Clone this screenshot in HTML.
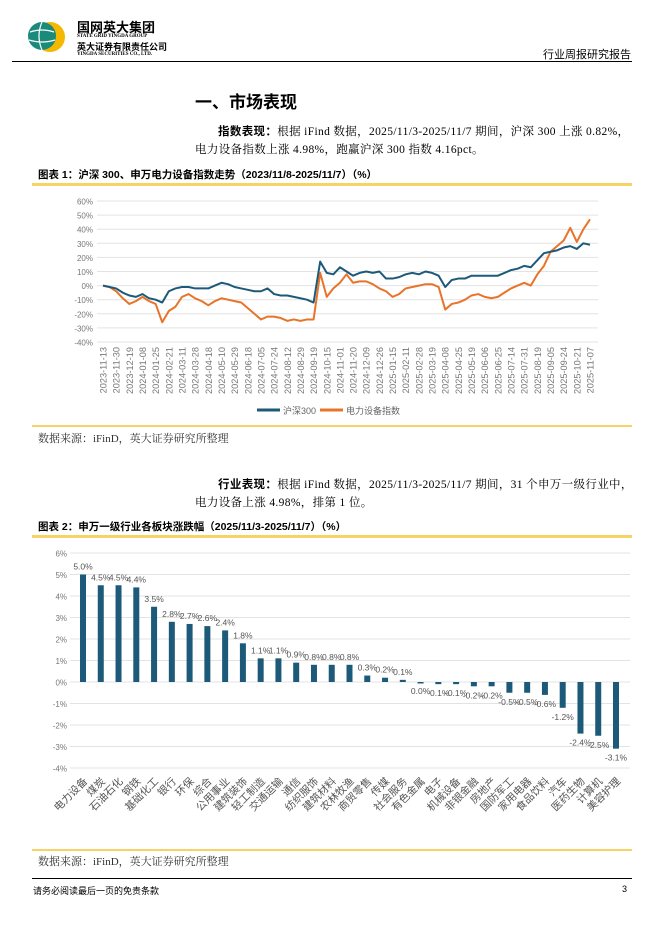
<!DOCTYPE html>
<html><head><meta charset="utf-8">
<style>
body{margin:0;background:#fff;}
#page{position:relative;width:662px;height:936px;overflow:hidden;font-family:"Liberation Serif","Noto Serif CJK SC",serif;color:#000;}
.abs{position:absolute;white-space:nowrap;}
.sans{font-family:"Liberation Sans","Noto Sans CJK SC",sans-serif;}
.yl{position:absolute;left:32px;width:600px;height:3px;background:#f6d365;}
.para{letter-spacing:0.35px;}
</style></head><body>
<div id="page">
  <svg class="abs" style="left:26px;top:18px" width="50" height="40">
    <circle cx="24" cy="19" r="15" fill="#f5b800"/>
    <circle cx="16" cy="18" r="14" fill="#1a8a7a"/>
    <path d="M4 14 Q16 10 28 14 M3 22 Q16 26 29 22 M16 4 Q10 18 16 32" stroke="#fff" stroke-width="1.2" fill="none"/>
  </svg>
  <div class="abs sans" style="left:77px;top:17px;font-size:13px;font-weight:bold">国网英大集团</div>
  <div class="abs" style="left:77px;top:34px;font-size:5px;font-weight:bold">STATE GRID YINGDA GROUP</div>
  <div class="abs sans" style="left:77px;top:40px;font-size:9px;font-weight:bold">英大证券有限责任公司</div>
  <div class="abs" style="left:77px;top:52px;font-size:5px;font-weight:bold">YINGDA SECURITIES CO., LTD.</div>
  <div class="abs sans" style="right:31px;top:46px;font-size:11px">行业周报研究报告</div>
  <div class="abs" style="left:12px;top:61px;width:620px;height:1px;background:#000"></div>

  <div class="abs sans" style="left:195px;top:88px;font-size:17px;font-weight:bold">一、市场表现</div>
  <div class="abs para" style="left:218px;top:123px;font-size:11.5px"><b class="sans">指数表现：</b>根据 iFind 数据，2025/11/3-2025/11/7 期间，沪深 300 上涨 0.82%，</div>
  <div class="abs para" style="left:195px;top:141px;font-size:11.5px">电力设备指数上涨 4.98%，跑赢沪深 300 指数 4.16pct。</div>

  <div class="abs sans" style="left:38px;top:167px;font-size:10.5px;font-weight:bold">图表 1：沪深 300、申万电力设备指数走势（2023/11/8-2025/11/7）（%）</div>
  <div class="yl" style="top:183px"></div>
  <svg id="c1" class="abs" style="left:0;top:186px" width="662" height="238"></svg>
  <div class="yl" style="top:425px;height:2px"></div>
  <div class="abs" style="left:38px;top:430px;font-size:11px;color:#333">数据来源：iFinD，英大证券研究所整理</div>

  <div class="abs para" style="left:218px;top:476px;font-size:11.5px"><b class="sans">行业表现：</b>根据 iFind 数据，2025/11/3-2025/11/7 期间，31 个申万一级行业中，</div>
  <div class="abs para" style="left:195px;top:494px;font-size:11.5px">电力设备上涨 4.98%，排第 1 位。</div>

  <div class="abs sans" style="left:38px;top:519px;font-size:10.5px;font-weight:bold">图表 2：申万一级行业各板块涨跌幅（2025/11/3-2025/11/7）（%）</div>
  <div class="yl" style="top:535px"></div>
  <svg id="c2" class="abs" style="left:0;top:538px" width="662" height="310"></svg>
  <div class="yl" style="top:849px;height:2px"></div>
  <div class="abs" style="left:38px;top:853px;font-size:11px;color:#333">数据来源：iFinD，英大证券研究所整理</div>

  <div class="abs" style="left:32px;top:878px;width:600px;height:1px;background:#000"></div>
  <div class="abs sans" style="left:33px;top:884px;font-size:9px">请务必阅读最后一页的免责条款</div>
  <div class="abs sans" style="left:622px;top:884px;font-size:9px">3</div>
</div>
<script>
const NS="http://www.w3.org/2000/svg";
const dateLabels=["2023-11-13","2023-11-30","2023-12-19","2024-01-08","2024-01-25","2024-02-21","2024-03-11","2024-03-28","2024-04-18","2024-05-10","2024-05-29","2024-06-18","2024-07-05","2024-07-24","2024-08-12","2024-08-29","2024-09-19","2024-10-15","2024-11-01","2024-11-20","2024-12-09","2024-12-26","2025-01-15","2025-02-11","2025-02-28","2025-03-19","2025-04-08","2025-04-25","2025-05-19","2025-06-06","2025-06-25","2025-07-14","2025-07-31","2025-08-19","2025-09-05","2025-09-24","2025-10-21","2025-11-07"];
const yTicks1=[60,50,40,30,20,10,0,-10,-20,-30,-40];
const hs300=[0,-1,-2,-5,-7,-8,-6,-9,-10,-12,-4,-2,-1,-1,-2,-2,-2,0,2,1,-1,-2,-3,-4,-4,-2,-6,-7,-7,-8,-9,-10,-12,17,9,8,13,10,7,9,10,9,10,5,5,6,8,9,8,10,9,7,-1,4,5,5,7,7,7,7,7,9,11,12,14,13,18,23,24,25,27,28,26,30,29];
const power=[0,-1,-4,-9,-13,-11,-8,-11,-13,-26,-18,-15,-8,-6,-9,-11,-14,-11,-9,-10,-11,-12,-16,-20,-24,-22,-22,-23,-25,-24,-25,-24,-24,9,-8,-2,2,8,2,3,3,1,-2,-4,-8,-6,-2,-1,0,1,1,-1,-17,-13,-12,-10,-7,-6,-8,-9,-8,-5,-2,0,2,0,8,14,24,28,32,41,31,40,47];
const industries=["电力设备","煤炭","石油石化","钢铁","基础化工","银行","环保","综合","公用事业","建筑装饰","轻工制造","交通运输","通信","纺织服饰","建筑材料","农林牧渔","商贸零售","传媒","社会服务","有色金属","电子","机械设备","非银金融","房地产","国防军工","家用电器","食品饮料","汽车","医药生物","计算机","美容护理"];
const changes=[5.0,4.5,4.5,4.4,3.5,2.8,2.7,2.6,2.4,1.8,1.1,1.1,0.9,0.8,0.8,0.8,0.3,0.2,0.1,0.0,-0.1,-0.1,-0.2,-0.2,-0.5,-0.5,-0.6,-1.2,-2.4,-2.5,-3.1];
const yTicks2=[6,5,4,3,2,1,0,-1,-2,-3,-4];

function el(parent,tag,attrs,text){const e=document.createElementNS(NS,tag);for(const k in attrs)e.setAttribute(k,attrs[k]);if(text!==undefined)e.textContent=text;parent.appendChild(e);return e;}
const FONT='"Liberation Sans","Noto Sans CJK SC",sans-serif';

(function(){
  const s=document.getElementById('c1');
  const x0=103,x1=590,yTop=15,yBot=156;
  const y=v=>yTop+(60-v)/100*(yBot-yTop);
  const xl=i=>x0+i*(x1-x0)/(dateLabels.length-1);
  const xs=i=>x0+i*(x1-x0)/(hs300.length-1);
  yTicks1.forEach(t=>{
    const g=el(s,'line',{x1:97,x2:598,y1:y(t),y2:y(t),stroke:'#e3e3e3','stroke-width':1});
    
    
    const tx=el(s,'text',{x:93,y:y(t)+3.5,'text-anchor':'end','font-size':8,fill:'#777','font-family':FONT},t+'%');
    
    
  });
  dateLabels.forEach((d,i)=>{
    const tx=el(s,'text',{'text-anchor':'end','font-size':9.2,fill:'#777','font-family':FONT},d);
    tx.setAttribute('transform',`translate(${xl(i)+3.5},${y(-40)+5}) rotate(-90)`);
    
    
  });
  const mk=(arr,col,name)=>{
    const p=el(s,'polyline',{points:arr.map((v,i)=>xs(i)+','+y(v)).join(' '),fill:'none',stroke:col,'stroke-width':2,'stroke-linejoin':'round'});
    
    
  };
  mk(power,'#e8742a','power-equipment-line');
  mk(hs300,'#1d5a7a','hs300-line');
  const lg=[['沪深300','#1d5a7a',257],['电力设备指数','#e8742a',320]];
  lg.forEach(([t,c,lx])=>{
    const l=el(s,'line',{x1:lx,x2:lx+23,y1:224,y2:224,stroke:c,'stroke-width':3});
    
    
    const tx=el(s,'text',{x:lx+26,y:228,'font-size':9,fill:'#666','font-family':FONT},t);
    
    
  });
})();

(function(){
  const s=document.getElementById('c2');
  const yTop=15,yBot=230;
  const y=v=>yTop+(6-v)/10*(yBot-yTop);
  const x=i=>83+i*(616-83)/(industries.length-1);
  yTicks2.forEach(t=>{
    const g=el(s,'line',{x1:70,x2:630,y1:y(t),y2:y(t),stroke:'#e3e3e3','stroke-width':1});
    
    
    const tx=el(s,'text',{x:67,y:y(t)+3.5,'text-anchor':'end','font-size':8,fill:'#777','font-family':FONT},t+'%');
    
    
  });
  industries.forEach((n,i)=>{
    const v=changes[i];
    let top=Math.min(y(v),y(0)),h=Math.abs(y(v)-y(0));
    if(h<1.5){h=1.5;if(v<=0)top=y(0);else top=y(0)-1.5;}
    const r=el(s,'rect',{x:x(i)-3,y:top,width:6,height:h,fill:'#1d5a7a'});
    
    
    const ly=v>0?y(v)-5:Math.max(y(v),y(0))+12;
    const lt=el(s,'text',{x:x(i),y:ly,'text-anchor':'middle','font-size':8.5,fill:'#555','font-family':FONT},v.toFixed(1)+'%');
    
    
    const ct=el(s,'text',{transform:`translate(${x(i)+5},${y(-4)+14}) rotate(-45)`,'text-anchor':'end','font-size':10.5,fill:'#555','font-family':FONT},n);
    
    
  });
})();
</script>
</body></html>
